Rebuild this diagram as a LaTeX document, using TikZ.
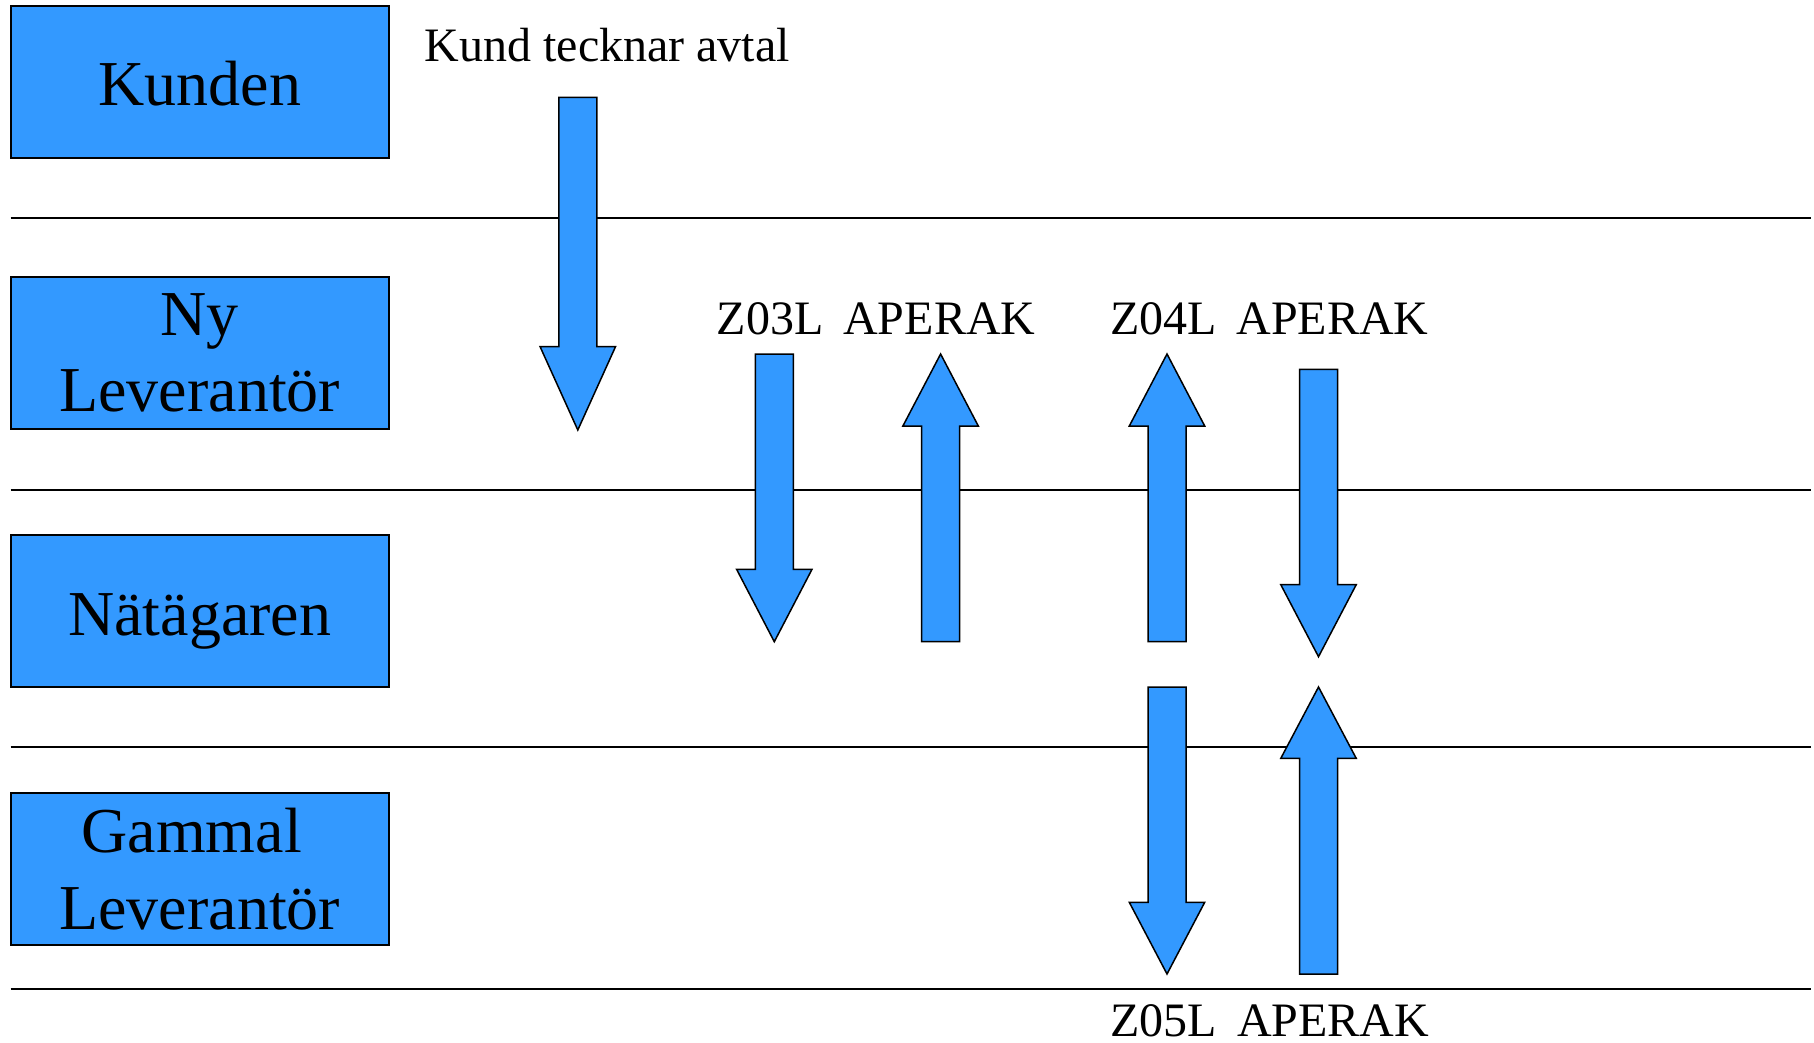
\documentclass[tikz,border=0pt]{standalone}
\usepackage{fontspec}
\setmainfont{Liberation Serif}
\definecolor{boxblue}{RGB}{51,153,255}
\newcommand{\blockarrow}[4]{%
  \filldraw[arrowshape] (#1-19,#2) -- (#1+19,#2) -- (#1+19,#3) -- (#1+37.7,#3) -- (#1,#4) -- (#1-37.7,#3) -- (#1-19,#3) -- cycle;}
\begin{document}
\begin{tikzpicture}[x=1pt,y=-1pt,
  lane/.style={draw=black,line width=2pt,fill=boxblue,minimum width=378.4pt,minimum height=151.7pt,inner sep=0pt,align=center,font=\fontsize{64}{76.7}\selectfont},
  oneline/.style={text height=48pt,text depth=0pt},
  sep/.style={draw=black,line width=2pt},
  arrowshape/.style={fill=boxblue,draw=black,line width=1.5pt,line join=miter},
  msg/.style={inner sep=0pt,anchor=base west,font=\fontsize{48}{56}\selectfont}]
\useasboundingbox (0,0) rectangle (1814,1042);
% swimlane boxes
\node[lane,oneline] (kunden) at (199.7,81.85) {Kunden};
\node[lane] (ny) at (199.7,353) {Ny\\Leverantör};
\node[lane,oneline] (nat) at (199.7,611.3) {Nätägaren};
\node[lane] (gammal) at (199.7,868.85) {Gammal\hspace*{0.25em}\\Leverantör};
% separator lines
\coordinate (s1a) at (10.5,217.8); \coordinate (s1b) at (1810.7,217.8);
\coordinate (s2a) at (10.5,490.3); \coordinate (s2b) at (1810.7,490.3);
\coordinate (s3a) at (10.5,747.3); \coordinate (s3b) at (1810.7,747.3);
\coordinate (s4a) at (10.5,989.3); \coordinate (s4b) at (1810.7,989.3);
\draw[sep] (s1a) -- (s1b);
\draw[sep] (s2a) -- (s2b);
\draw[sep] (s3a) -- (s3b);
\draw[sep] (s4a) -- (s4b);
% block arrows
\blockarrow{577.8}{97.3}{346.7}{430}
\blockarrow{774.3}{354}{569.3}{641.7}
\blockarrow{940.6}{641.7}{426}{354}
\blockarrow{1167}{641.7}{426}{354}
\blockarrow{1318.5}{369.3}{584.7}{656.7}
\blockarrow{1167}{687}{902.3}{974}
\blockarrow{1318.5}{974}{758.3}{687}
% labels
\node[msg] (t0) at (424.5,61) {Kund tecknar avtal};
\node[msg] (t1) at (716.5,334.3) {Z03L\ \kern-4pt\ APERAK};
\node[msg] (t2) at (1109.8,334.3) {Z04L\ \kern-4pt\ APERAK};
\node[msg] (t3) at (1110.2,1036.5) {Z05L\ \kern-4pt\ APERAK};
\end{tikzpicture}
\end{document}
